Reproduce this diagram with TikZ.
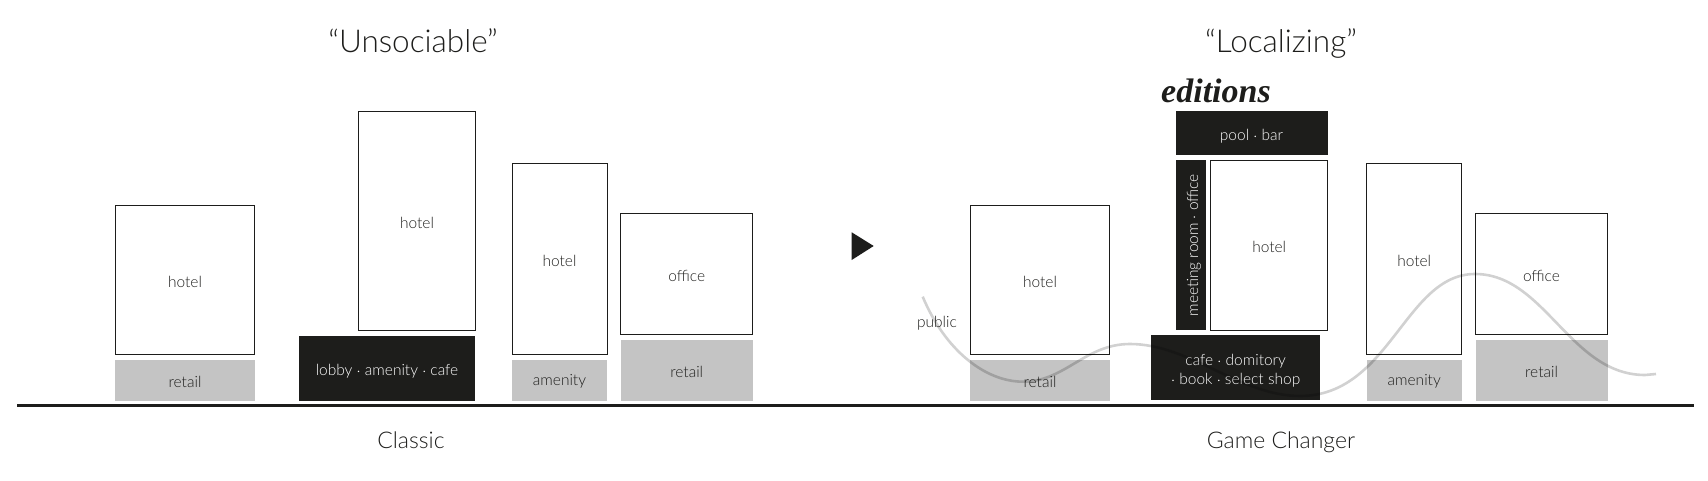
\documentclass[tikz,border=0pt]{standalone}
\usepackage{fontspec}
\setmainfont{Lato}[UprightFont=* Light]
\newfontfamily\brandfont{Liberation Serif}[UprightFont=* Bold Italic]
\usetikzlibrary{shapes.geometric}
\definecolor{ink}{HTML}{1D1D1B}
\definecolor{podium}{HTML}{C4C4C4}
\tikzstyle{small} = [text height=15pt, text depth=0pt, font=\fontsize{15.5}{19}\selectfont]
\tikzstyle{tower} = [rectangle, small, draw=ink, line width=1pt, fill=white, inner sep=0pt, text=ink]
\tikzstyle{shop} = [rectangle, small, fill=podium, inner sep=0pt, text=ink]
\tikzstyle{dark} = [rectangle, small, fill=ink, inner sep=0pt, text=white]
\tikzstyle{title} = [text=ink, text height=23pt, text depth=0pt, font=\fontsize{31.5}{34}\selectfont]
\tikzstyle{caption} = [text=ink, text height=17pt, text depth=0pt, font=\fontsize{23}{26}\selectfont]
\tikzstyle{ground} = [line width=3pt, draw=ink]
\tikzstyle{flow} = [line width=2.6pt, draw=black, opacity=0.18]
\begin{document}
\begin{tikzpicture}[x=1pt, y=-1pt, node distance=100pt]
\useasboundingbox (0,0) rectangle (1708,481);
\node (titleA) [title] at (413,41) {“Unsociable”};
\node (titleB) [title] at (1281,41) {“Localizing”};
% classic
\node (retailA) [shop, minimum width=140pt, minimum height=41pt] at (185,380) {retail};
\node (hotelA) [tower, above of=retailA, minimum width=139pt, minimum height=149pt] {hotel};
\node (lobby) [dark, minimum width=176pt, minimum height=65pt] at (387,368) {lobby $\cdot$ amenity $\cdot$ cafe};
\node (hotelB) [tower, minimum width=117pt, minimum height=219pt] at (417,221) {hotel};
\node (amenityA) [shop, minimum width=95pt, minimum height=41pt] at (559.5,380) {\raisebox{2pt}{amenity}};
\node (hotelC) [tower, above of=amenityA, node distance=121pt, minimum width=95pt, minimum height=191pt] {hotel};
\node (retailB) [shop, minimum width=132pt, minimum height=61pt] at (686.7,370) {retail};
\node (officeA) [tower, above of=retailB, node distance=96pt, minimum width=132pt, minimum height=121pt] {office};
\fill [ink] (851.7,232.3) -- (873.7,246) -- (851.7,260) -- cycle;
% game changer
\node (retailC) [shop, minimum width=140pt, minimum height=41pt] at (1040,380) {retail};
\node (hotelD) [tower, above of=retailC, minimum width=139pt, minimum height=149pt] {hotel};
\node (public) [small, text=ink] at (937,319.5) {public};
\node (cafe) [rectangle, fill=ink, inner sep=0pt, text=white, align=center, font=\fontsize{15.5}{19}\selectfont, minimum width=169pt, minimum height=65pt] at (1235.7,367.7) {\rule{0pt}{18pt}cafe $\cdot$ domitory\\$\cdot$ book $\cdot$ select shop};
\node (hotelE) [tower, minimum width=117pt, minimum height=170pt] at (1269.2,245.2) {hotel};
\node (meeting) [dark, rotate=90, minimum width=170pt, minimum height=30pt] at (1190.5,245.2) {meeting room $\cdot$ office};
\node (pool) [dark, minimum width=152pt, minimum height=44pt] at (1251.5,133.5) {pool $\cdot$ bar};
\node (brand) [text=ink, font=\fontsize{34}{36}\brandfont] at (1216,91) {editions};
\node (amenityB) [shop, minimum width=95pt, minimum height=41pt] at (1414.2,380) {\raisebox{2pt}{amenity}};
\node (hotelF) [tower, above of=amenityB, node distance=121pt, minimum width=95pt, minimum height=191pt] {hotel};
\node (retailD) [shop, minimum width=132pt, minimum height=61pt] at (1541.5,370) {retail};
\node (officeB) [tower, above of=retailD, node distance=96pt, minimum width=132pt, minimum height=121pt] {office};
\node (capA) [caption] at (411,440) {Classic};
\node (capB) [caption] at (1281,440) {Game Changer};
\coordinate (groundL) at (17,405);
\coordinate (groundR) at (1694,405);
\draw [ground] (groundL) -- (groundR);
\draw [flow] (922.7,296.7) .. controls (945,350) and (985,381.7) .. (1023,381.7) .. controls (1065,381.7) and (1085,344) .. (1130,344) .. controls (1190,344) and (1240,396) .. (1300,396) .. controls (1390,396) and (1405,274) .. (1475,274) .. controls (1545,274) and (1570,375) .. (1645,375) -- (1656,374);
\end{tikzpicture}
\end{document}
